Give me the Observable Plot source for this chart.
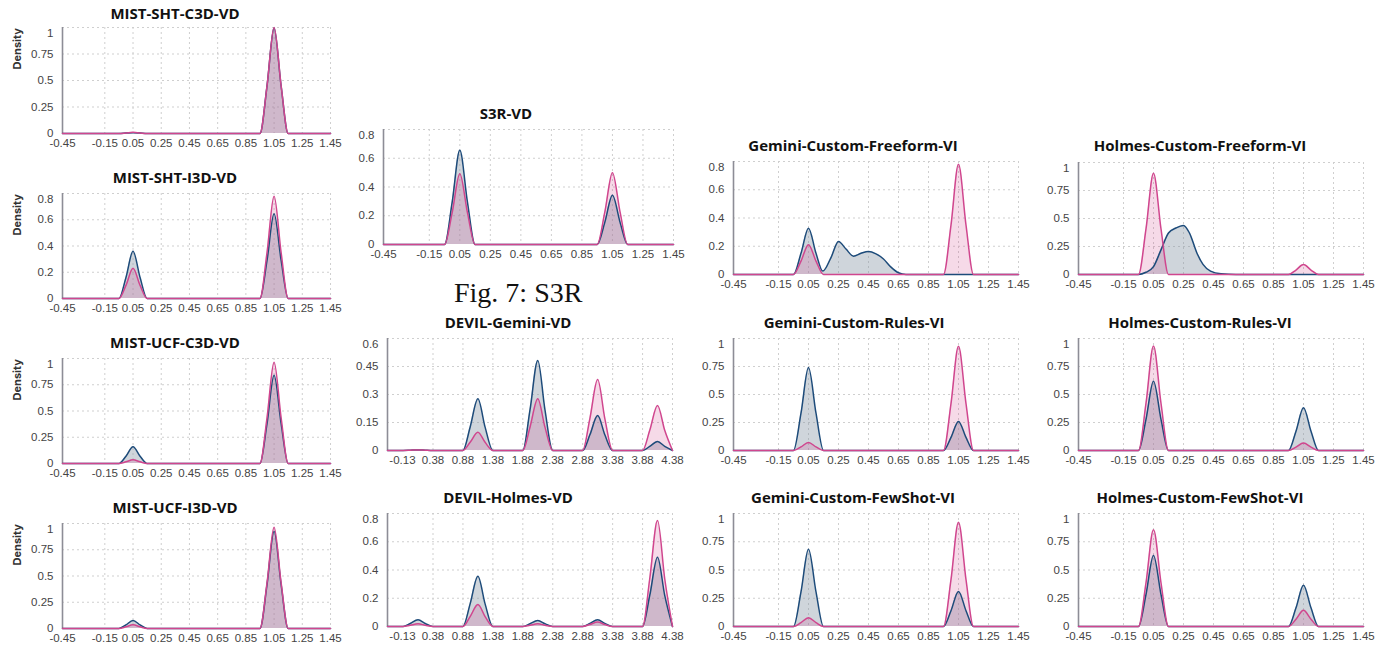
<!DOCTYPE html>
<html><head><meta charset="utf-8">
<script src="https://cdn.jsdelivr.net/npm/d3@7"></script>
<script src="https://cdn.jsdelivr.net/npm/@observablehq/plot@0.6"></script>
<style>
body{margin:0;background:#fff;}
#fig{position:relative;width:1391px;height:647px;overflow:hidden;font-family:"Liberation Sans",sans-serif;}
.ttl{position:absolute;width:400px;text-align:center;font-family:"Open Sans",Inter,sans-serif;font-weight:700;font-size:15px;line-height:16px;color:#111;white-space:nowrap;}
.ylab{position:absolute;writing-mode:vertical-rl;transform:rotate(180deg);font-family:Inter,sans-serif;font-weight:700;font-size:11px;line-height:12px;color:#333;}
.cap{position:absolute;font-family:"Liberation Serif","Times New Roman",serif;font-size:28px;line-height:28px;color:#111;white-space:nowrap;}
svg{position:absolute;}
</style></head><body><div id="fig"></div><script>
// ---- tick labels ----
const xTicksUnit = [-0.45, -0.15, 0.05, 0.25, 0.45, 0.65, 0.85, 1.05, 1.25, 1.45];
const xTicksDevil = [-0.13, 0.38, 0.88, 1.38, 1.88, 2.38, 2.88, 3.38, 3.88, 4.38];
const yTicks1 = [0, 0.25, 0.5, 0.75, 1];
const yTicks08 = [0, 0.2, 0.4, 0.6, 0.8];
const yTicks06 = [0, 0.15, 0.3, 0.45, 0.6];

// ---- density sample positions ----
const xUnit = [-0.45, -0.05, 0, 0.05, 0.1, 0.15, 0.95, 1, 1.05, 1.1, 1.15, 1.45];
const xDevil = [-0.38, -0.12, 0, 0.13, 0.25, 0.38, 0.88, 1, 1.13, 1.25, 1.38, 1.88, 2, 2.13, 2.25, 2.38, 2.88, 3, 3.13, 3.25, 3.38, 3.88, 4, 4.13, 4.25, 4.38];
const xGeminiFreeBlue = [-0.45, -0.05, 0, 0.05, 0.1, 0.145, 0.2, 0.25, 0.3, 0.35, 0.4, 0.45, 0.5, 0.55, 0.6, 0.65, 0.7, 1.45];
const xHolmesFreeBlue = [-0.45, -0.05, 0, 0.05, 0.1, 0.15, 0.2, 0.25, 0.29, 0.34, 0.38, 0.43, 0.5, 0.6, 1.45];

// ---- series values (blue = navy series, pink = magenta series) ----
const mistShtC3dBlue = [0, 0, 0.004, 0.008, 0.004, 0, 0, 0.448, 0.995, 0.448, 0, 0];
const mistShtC3dPink = [0, 0, 0.005, 0.012, 0.005, 0, 0, 0.45, 1.0, 0.45, 0, 0];
const mistShtI3dBlue = [0, 0, 0.16, 0.36, 0.16, 0, 0, 0.29, 0.645, 0.29, 0, 0];
const mistShtI3dPink = [0, 0, 0.10, 0.23, 0.10, 0, 0, 0.35, 0.78, 0.35, 0, 0];
const mistUcfC3dBlue = [0, 0, 0.07, 0.16, 0.07, 0, 0, 0.38, 0.84, 0.38, 0, 0];
const mistUcfC3dPink = [0, 0, 0.016, 0.035, 0.016, 0, 0, 0.435, 0.965, 0.435, 0, 0];
const mistUcfI3dBlue = [0, 0, 0.034, 0.076, 0.034, 0, 0, 0.417, 0.927, 0.417, 0, 0];
const mistUcfI3dPink = [0, 0, 0.016, 0.035, 0.016, 0, 0, 0.434, 0.965, 0.434, 0, 0];
const s3rBlue = [0, 0, 0.295, 0.655, 0.295, 0, 0, 0.154, 0.342, 0.154, 0, 0];
const s3rPink = [0, 0, 0.222, 0.493, 0.222, 0, 0, 0.225, 0.5, 0.225, 0, 0];
const devilGeminiBlue = [0, 0, 0.0013, 0.003, 0.0013, 0, 0, 0.125, 0.277, 0.125, 0, 0, 0.217, 0.482, 0.217, 0, 0, 0.084, 0.187, 0.084, 0, 0, 0.022, 0.048, 0.022, 0];
const devilGeminiPink = [0, 0, 0.0013, 0.003, 0.0013, 0, 0, 0.044, 0.098, 0.044, 0, 0, 0.125, 0.277, 0.125, 0, 0, 0.171, 0.38, 0.171, 0, 0, 0.108, 0.241, 0.108, 0];
const devilHolmesBlue = [0, 0, 0.021, 0.047, 0.021, 0, 0, 0.16, 0.356, 0.16, 0, 0, 0.019, 0.042, 0.019, 0, 0, 0.021, 0.047, 0.021, 0, 0, 0.22, 0.49, 0.22, 0];
const devilHolmesPink = [0, 0, 0.009, 0.019, 0.009, 0, 0, 0.07, 0.156, 0.07, 0, 0, 0.009, 0.019, 0.009, 0, 0, 0.014, 0.031, 0.014, 0, 0, 0.338, 0.75, 0.338, 0];
const geminiFreeBlue = [0, 0, 0.15, 0.328, 0.15, 0.024, 0.12, 0.234, 0.18, 0.13, 0.15, 0.163, 0.146, 0.11, 0.052, 0.012, 0, 0];
const geminiFreePink = [0, 0, 0.095, 0.21, 0.095, 0, 0, 0.35, 0.78, 0.35, 0, 0];
const geminiRulesBlue = [0, 0, 0.333, 0.74, 0.333, 0, 0, 0.117, 0.26, 0.117, 0, 0];
const geminiRulesPink = [0, 0, 0.032, 0.072, 0.032, 0, 0, 0.419, 0.93, 0.419, 0, 0];
const geminiFewBlue = [0, 0, 0.307, 0.683, 0.307, 0, 0, 0.14, 0.31, 0.14, 0, 0];
const geminiFewPink = [0, 0, 0.035, 0.077, 0.035, 0, 0, 0.415, 0.923, 0.415, 0, 0];
const holmesFreeBlue = [0, 0, 0.02, 0.07, 0.22, 0.37, 0.415, 0.438, 0.37, 0.19, 0.09, 0.03, 0.006, 0, 0];
const holmesFreePink = [0, 0, 0.407, 0.905, 0.407, 0, 0, 0.04, 0.089, 0.04, 0, 0];
const holmesRulesBlue = [0, 0, 0.278, 0.618, 0.278, 0, 0, 0.172, 0.382, 0.172, 0, 0];
const holmesRulesPink = [0, 0, 0.42, 0.934, 0.42, 0, 0, 0.03, 0.066, 0.03, 0, 0];
const holmesFewBlue = [0, 0, 0.283, 0.628, 0.283, 0, 0, 0.165, 0.366, 0.165, 0, 0];
const holmesFewPink = [0, 0, 0.386, 0.857, 0.386, 0, 0, 0.064, 0.143, 0.064, 0, 0];

const titles = ["MIST-SHT-C3D-VD","MIST-SHT-I3D-VD","MIST-UCF-C3D-VD","MIST-UCF-I3D-VD","S3R-VD","DEVIL-Gemini-VD","DEVIL-Holmes-VD","Gemini-Custom-Freeform-VI","Gemini-Custom-Rules-VI","Gemini-Custom-FewShot-VI","Holmes-Custom-Freeform-VI","Holmes-Custom-Rules-VI","Holmes-Custom-FewShot-VI"];
const captionText = "Fig. 7: S3R";
const yLabelText = "Density";

// ---- layout (plot frame: left, right, top, bottom; title centre) ----
const U = {xDomain:[-0.45,1.45], xTicks:xTicksUnit};
const D = {xDomain:[-0.38,4.38], xTicks:xTicksDevil};
const panels = [
  {...U, x:xUnit, blue:mistShtC3dBlue, pink:mistShtC3dPink, yTicks:yTicks1, box:[62,330,27,133], tc:[175,13], dens:true},
  {...U, x:xUnit, blue:mistShtI3dBlue, pink:mistShtI3dPink, yTicks:yTicks08, box:[62,330,193,298], tc:[175,177], dens:true},
  {...U, x:xUnit, blue:mistUcfC3dBlue, pink:mistUcfC3dPink, yTicks:yTicks1, box:[62,330,358,463], tc:[175,342], dens:true},
  {...U, x:xUnit, blue:mistUcfI3dBlue, pink:mistUcfI3dPink, yTicks:yTicks1, box:[62,330,523,628], tc:[175,507], dens:true},
  {...U, x:xUnit, blue:s3rBlue, pink:s3rPink, yTicks:yTicks08, box:[383,673,129,244], tc:[506,113]},
  {...D, x:xDevil, blue:devilGeminiBlue, pink:devilGeminiPink, yTicks:yTicks06, box:[387,672,338,450], tc:[508,322]},
  {...D, x:xDevil, blue:devilHolmesBlue, pink:devilHolmesPink, yTicks:yTicks08, box:[387,672,513,626], tc:[508,497]},
  {...U, x:xUnit, blueX:xGeminiFreeBlue, blue:geminiFreeBlue, pink:geminiFreePink, yTicks:yTicks08, box:[733,1018,161,274], tc:[853,145]},
  {...U, x:xUnit, blue:geminiRulesBlue, pink:geminiRulesPink, yTicks:yTicks1, box:[733,1018,338,450], tc:[854,322]},
  {...U, x:xUnit, blue:geminiFewBlue, pink:geminiFewPink, yTicks:yTicks1, box:[733,1018,513,626], tc:[853,497]},
  {...U, x:xUnit, blueX:xHolmesFreeBlue, blue:holmesFreeBlue, pink:holmesFreePink, yTicks:yTicks1, box:[1078,1363,162,274], tc:[1200,145]},
  {...U, x:xUnit, blue:holmesRulesBlue, pink:holmesRulesPink, yTicks:yTicks1, box:[1078,1363,338,450], tc:[1200,322]},
  {...U, x:xUnit, blue:holmesFewBlue, pink:holmesFewPink, yTicks:yTicks1, box:[1078,1363,513,626], tc:[1200,497]}
];

const fig = document.getElementById("fig");
const mL = 45, mR = 25, mT = 8, mB = 24;
const BLUE = "#1d4b7a", PINK = "#d0468e";
const FS = 11.5;

panels.forEach((p, i) => {
  const [l, r, t, b] = p.box;
  const blueData = (p.blueX || p.x).map((x, j) => ({x, y: p.blue[j]}));
  const pinkData = p.x.map((x, j) => ({x, y: p.pink[j]}));
  const yMax = p.yTicks[p.yTicks.length - 1];
  const chart = Plot.plot({
    width: r - l + mL + mR, height: b - t + mT + mB,
    marginLeft: mL, marginRight: mR, marginTop: mT, marginBottom: mB,
    style: {background: "transparent", overflow: "visible", maxWidth: "none", fontFamily: "'Liberation Sans', Arial, sans-serif", fontSize: FS + "px", color: "#444"},
    x: {domain: p.xDomain, ticks: p.xTicks, tickFormat: d => d.toFixed(2), tickSize: 0, tickPadding: 5, label: null},
    y: {domain: [0, yMax], ticks: p.yTicks.slice(0, -1), tickFormat: d => String(d), tickSize: 0, tickPadding: 9, label: null},
    marks: [
      Plot.ruleX(p.xTicks.slice(1), {stroke: "#cfcfcf", strokeDasharray: "2,3", strokeWidth: 1}),
      Plot.ruleY(p.yTicks.slice(1), {stroke: "#cfcfcf", strokeDasharray: "2,3", strokeWidth: 1}),
      Plot.ruleX([p.xDomain[0]], {stroke: "#8d8d96", strokeWidth: 1.6}),
      Plot.text([yMax], {y: d => d, text: d => String(d), frameAnchor: "left", textAnchor: "end", dx: -9, dy: 6, fontSize: FS, fill: "#444"}),
      Plot.areaY(blueData, {x: "x", y: "y", curve: "monotone-x", fill: "#8797a4", fillOpacity: 0.4}),
      Plot.areaY(pinkData, {x: "x", y: "y", curve: "monotone-x", fill: PINK, fillOpacity: 0.2}),
      Plot.lineY(blueData, {x: "x", y: "y", curve: "monotone-x", stroke: BLUE, strokeWidth: 1.5}),
      Plot.lineY(pinkData, {x: "x", y: "y", curve: "monotone-x", stroke: PINK, strokeWidth: 1.5})
    ]
  });
  chart.style.position = "absolute";
  chart.style.left = (l - mL) + "px";
  chart.style.top = (t - mT) + "px";
  fig.appendChild(chart);

  const tt = document.createElement("div");
  tt.className = "ttl";
  tt.textContent = titles[i];
  tt.style.left = (p.tc[0] - 200) + "px";
  tt.style.top = (p.tc[1] - 8) + "px";
  fig.appendChild(tt);

  if (p.dens) {
    const yl = document.createElement("div");
    yl.className = "ylab";
    yl.textContent = yLabelText;
    yl.style.left = "11px";
    yl.style.top = (t + 1) + "px";
    fig.appendChild(yl);
  }
});

const cap = document.createElement("div");
cap.className = "cap";
cap.textContent = captionText;
cap.style.left = "454px";
cap.style.top = "279px";
fig.appendChild(cap);
</script></body></html>
